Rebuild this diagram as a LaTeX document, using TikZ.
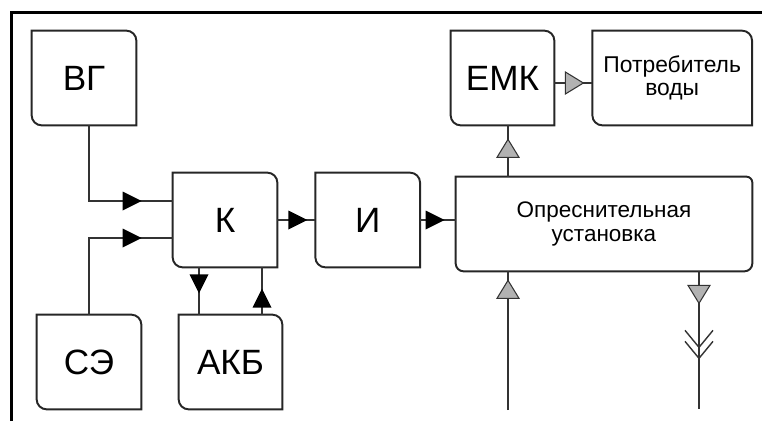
\documentclass[tikz,border=0pt]{standalone}
\usepackage{fontspec}
\setmainfont{Liberation Sans}
\usetikzlibrary{positioning, calc, arrows.meta, decorations.markings}

\tikzset{
    blk/.style={inner sep=0pt, minimum width=2.08cm, minimum height=1.88cm, align=center, font=\fontsize{20}{22}\selectfont},
    smalltext/.style={font=\fontsize{13}{13}\selectfont},
    boxline/.style={line width=1.1pt, draw=black!85},
    link/.style={line width=0.8pt, draw=black!80},
    % heads drawn in the local frame of the path (x along the line)
    blackhead/.style={postaction={decorate, decoration={markings, mark=at position #1 with
        {\fill[black] (0,0) -- (-0.38,0.19) -- (-0.38,-0.19) -- cycle;}}}},
    grayhead/.style={postaction={decorate, decoration={markings, mark=at position #1 with
        {\draw[line width=0.6pt, fill=black!30] (0,0) -- (-0.36,0.22) -- (-0.36,-0.22) -- cycle;}}}},
    barbs/.style={postaction={decorate, decoration={markings,
        mark=at position 1.52cm with {\draw[line width=0.8pt] (-0.34,0.28) -- (0,0) -- (-0.34,-0.28);},
        mark=at position 1.74cm with {\draw[line width=0.8pt] (-0.34,0.28) -- (0,0) -- (-0.34,-0.28);}}}},
}

\begin{document}
\begin{tikzpicture}
\useasboundingbox (0,0) rectangle (15.24,8.42);

% frame
\draw[line width=2pt] (0.234,0) -- (0.234,8.17) -- (15.24,8.17);

% blocks
\node[blk] (vg) at (1.68,6.86) {ВГ};
\node[blk] (k) at (4.5,4.02) {К};
\node[blk, right=0.76cm of k] (inv) {И};
\node[blk, minimum width=2.06cm] (emk) at (10.05,6.86) {ЕМК};
\node[blk, smalltext, minimum width=3.18cm, right=0.76cm of emk] (potr) {Потребитель\\воды};
\node[blk, minimum width=5.92cm, font=\fontsize{12.8}{14}\selectfont] (opr) at (12.08,3.94) {Опреснительная\\установка};
\node[blk] (se) at (1.78,1.18) {СЭ};
\node[blk, minimum width=2.06cm] (akb) at (4.61,1.18) {АКБ};

% outlines: square NW/SE, rounded NE/SW
\foreach \b in {vg,k,inv,emk,potr,se,akb}
    \draw[boxline] (\b.north west) -- ($(\b.north east)+(-0.2,0)$) arc[start angle=90, end angle=0, radius=0.2]
        -- (\b.south east) -- ($(\b.south west)+(0.2,0)$) arc[start angle=270, end angle=180, radius=0.2] -- cycle;
\draw[boxline] (opr.north west) -- ($(opr.north east)+(-0.12,0)$) arc[start angle=90, end angle=0, radius=0.12]
    -- ($(opr.south east)+(0,0.16)$) arc[start angle=0, end angle=-90, radius=0.16]
    -- ($(opr.south west)+(0.16,0)$) arc[start angle=270, end angle=180, radius=0.16] -- cycle;

% sources to controller
\draw[link, blackhead=-0.62cm] ($(vg.south)+(0.1,0)$) |- ($(k.west)+(0,0.38)$);
\draw[link, blackhead=-0.62cm] (se.north) |- ($(k.west)+(0,-0.36)$);

% controller, battery, inverter
\coordinate (kd) at ($(k.south)+(-0.52,0)$);
\coordinate (ku) at ($(akb.north)+(0.63,0)$);
\draw[link, blackhead=0.52cm] (kd) -- (kd |- akb.north);
\draw[link, blackhead=0.52cm] (ku) -- (ku |- k.south);
\draw[link, blackhead=-0.16cm] (k.east) -- (inv.west);
\draw[link, blackhead=-0.22cm] (inv.east) -- (inv.east -| opr.west);

% water side
\coordinate (up) at ($(emk.south)+(0.11,0)$);
\draw[link, grayhead=-0.28cm] (up |- opr.north) -- (up);
\draw[link, grayhead=-0.18cm] ($(emk.east)+(0,-0.1)$) -- ($(potr.west)+(0,-0.1)$);
\coordinate (feed) at (10.16,0.22);
\coordinate (drain) at (13.98,0.24);
\draw[link, grayhead=-0.18cm] (feed) -- (feed |- opr.south);
\draw[link, grayhead=0.64cm, barbs] (drain |- opr.south) -- (drain);
\end{tikzpicture}
\end{document}
